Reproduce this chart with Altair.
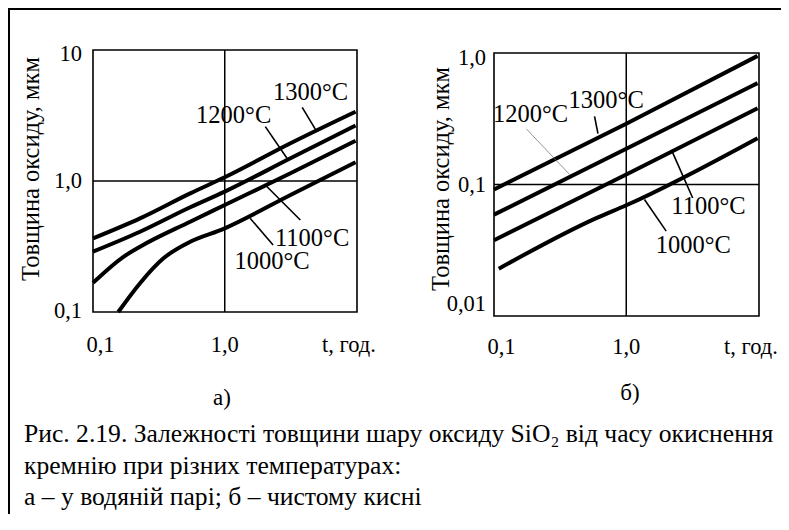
import altair as alt
import pandas as pd

FONT = "Liberation Serif"
W, H = 773, 506

# ---------------- panel а) : water vapour ----------------
a_1300_t = [0.087, 0.208, 0.527, 1.0, 3.38, 11.3]
a_1300_d = [0.365, 0.519, 0.805, 1.067, 1.94, 3.38]
a_1200_t = [0.087, 0.208, 0.527, 1.0, 3.38, 11.3]
a_1200_d = [0.289, 0.41, 0.63, 0.83, 1.49, 2.65]
a_1100_t = [0.087, 0.153, 0.208, 0.527, 1.0, 3.38, 11.3]
a_1100_d = [0.167, 0.264, 0.315, 0.489, 0.656, 1.145, 2.03]
a_1000_t = [0.139, 0.208, 0.321, 0.496, 1.0, 3.38, 11.3]
a_1000_d = [0.1, 0.166, 0.257, 0.334, 0.435, 0.782, 1.39]

a_label_text = ["1300°C", "1200°C", "1100°C", "1000°C"]
a_label_t = [4.9, 1.18, 5.05, 2.4]
a_label_d = [4.67, 3.13, 0.361, 0.239]
a_lead_t = [4.2, 2.12, 2.12, 1.6]
a_lead_d = [3.65, 2.6, 0.932, 0.519]
a_lead_t2 = [5.37, 3.17, 4.06, 2.45]
a_lead_d2 = [2.48, 1.49, 0.504, 0.325]

# ---------------- panel б) : pure oxygen ----------------
b_1300_t = [0.087, 1.0, 11.3]
b_1300_d = [0.0917, 0.29, 0.95]
b_1200_t = [0.087, 1.0, 11.3]
b_1200_d = [0.059, 0.187, 0.59]
b_1100_t = [0.087, 1.0, 11.3]
b_1100_d = [0.0377, 0.119, 0.38]
b_1000_t = [0.095, 0.575, 1.0, 11.3]
b_1000_d = [0.0229, 0.0555, 0.0695, 0.225]

b_label_text = ["1300°C", "1200°C", "1100°C", "1000°C"]
b_label_t = [0.69, 0.171, 4.56, 3.45]
b_label_d = [0.435, 0.335, 0.0675, 0.034]
b_lead_t = [0.557, 0.158, 2.36, 1.4]
b_lead_d = [0.33, 0.265, 0.174, 0.0769]
b_lead_t2 = [0.593, 0.352, 3.41, 2.09]
b_lead_d2 = [0.244, 0.119, 0.079, 0.0442]

# ---------------- tick labels and texts ----------------
x_ticks = [0.1, 1, 10]
x_tick_labels = ["0,1", "1,0", "t, год."]
a_y_ticks = [0.1, 1, 10]
a_y_tick_labels = ["0,1", "1,0", "10"]
b_y_ticks = [0.01, 0.1, 1]
b_y_tick_labels = ["0,01", "0,1", "1,0"]
y_title = "Товщина оксиду, мкм"
a_subtitle = "а)"
b_subtitle = "б)"

caption_lines = [
    "Рис. 2.19. Залежності товщини шару оксиду SiO₂ від часу окиснення",
    "кремнію при різних температурах:",
    "а – у водяній парі; б – чистому кисні",
]

T_DOMAIN = [0.087, 11.6]


def curves_df(pairs):
    rows = []
    for name, ts, ds in pairs:
        for t, d in zip(ts, ds):
            rows.append({"T": name, "t": t, "d": d})
    return pd.DataFrame(rows)


def panel(curves, lab_text, lab_t, lab_d, ld_t, ld_d, ld_t2, ld_d2,
          y_dom, y_ticks, y_tick_labels, x_range, y_range, grid_d,
          xlab_dy, ylab_dx, ylab_shift, subtitle, subtitle_xy, ytitle_xy, thin_label=None):
    xs = alt.Scale(type="log", domain=T_DOMAIN, range=x_range, nice=False)
    ys = alt.Scale(type="log", domain=y_dom, range=y_range, nice=False)
    import math
    px_per_decade = (y_range[0] - y_range[1]) / math.log10(y_dom[1] / y_dom[0])

    def X(f="t:Q"):
        return alt.X(f, scale=xs, axis=None)

    def Y(f="d:Q"):
        return alt.Y(f, scale=ys, axis=None)

    frame_df = pd.DataFrame([{"t": T_DOMAIN[0], "t2": T_DOMAIN[1], "d": y_dom[0], "d2": y_dom[1]}])
    frame = alt.Chart(frame_df).mark_rect(fillOpacity=0, stroke="black", strokeWidth=1.6).encode(
        x=X(), x2="t2:Q", y=Y(), y2="d2:Q")

    vgrid = alt.Chart(pd.DataFrame([{"t": 1.0, "d": y_dom[0], "d2": y_dom[1]}])).mark_rule(
        color="black", strokeWidth=1.5).encode(x=X(), y=Y(), y2="d2:Q")
    hgrid = alt.Chart(pd.DataFrame([{"t": T_DOMAIN[0], "t2": T_DOMAIN[1], "d": grid_d}])).mark_rule(
        color="black", strokeWidth=1.5).encode(x=X(), x2="t2:Q", y=Y())

    lines = alt.Chart(curves_df(curves)).mark_line(
        color="black", strokeWidth=4, interpolate="monotone", strokeCap="butt").encode(
        x=X(), y=Y(), detail="T:N")

    lead_df = pd.DataFrame({"label": lab_text, "t": ld_t, "d": ld_d, "t2": ld_t2, "d2": ld_d2})
    if thin_label is not None:
        sw = alt.condition(alt.datum.label == thin_label, alt.value(0.7), alt.value(1.6))
        col = alt.condition(alt.datum.label == thin_label, alt.value("#666666"), alt.value("black"))
    else:
        sw = alt.value(1.6)
        col = alt.value("black")
    leaders = alt.Chart(lead_df).mark_rule().encode(
        x=X(), y=Y(), x2="t2:Q", y2="d2:Q", strokeWidth=sw, color=col)

    lab_df = pd.DataFrame({"label": lab_text, "t": lab_t, "d": lab_d})
    labels = alt.Chart(lab_df).mark_text(font=FONT, fontSize=24.5, color="black",
                                         align="center", baseline="middle").encode(
        x=X(), y=Y(), text="label:N")

    # tick labels (drawn through the panel's own scales)
    xt_df = pd.DataFrame({"t": x_ticks, "lab": x_tick_labels, "d": [y_dom[0]] * len(x_ticks)})
    xticks = alt.Chart(xt_df).mark_text(font=FONT, fontSize=22.5, color="black", align="center",
                                        baseline="alphabetic", dy=xlab_dy).encode(
        x=X(), y=Y(), text="lab:N")
    yt_df = pd.DataFrame({"d": y_ticks, "lab": y_tick_labels, "t": [T_DOMAIN[0]] * len(y_ticks)})
    # the end labels sit a few pixels inside the frame, as in the original figure
    shift_expr = (f"datum.d >= {y_dom[1]} ? {ylab_shift[1]} : "
                  f"(datum.d <= {y_dom[0]} ? {ylab_shift[0]} : 0)")
    yticks = alt.Chart(yt_df).transform_calculate(
        off=shift_expr
    ).transform_calculate(
        dl=f"datum.d * pow(10, -datum.off / {px_per_decade})"
    ).mark_text(
        font=FONT, fontSize=22.5, color="black", align="right",
        baseline="middle", dx=ylab_dx).encode(
        x=X(), y=Y("dl:Q"), text="lab:N")

    ytitle = alt.Chart(pd.DataFrame({"s": [y_title]})).mark_text(
        font=FONT, fontSize=24.5, color="black", angle=270, align="center", baseline="middle").encode(
        x=alt.value(ytitle_xy[0]), y=alt.value(ytitle_xy[1]), text="s:N")
    sub = alt.Chart(pd.DataFrame({"s": [subtitle]})).mark_text(
        font=FONT, fontSize=23, color="black", align="center", baseline="middle").encode(
        x=alt.value(subtitle_xy[0]), y=alt.value(subtitle_xy[1]), text="s:N")

    return alt.layer(frame, vgrid, hgrid, lines, leaders, labels, xticks, yticks, ytitle, sub)


panel_a = panel(
    [("1300°C", a_1300_t, a_1300_d), ("1200°C", a_1200_t, a_1200_d),
     ("1100°C", a_1100_t, a_1100_d), ("1000°C", a_1000_t, a_1000_d)],
    a_label_text, a_label_t, a_label_d, a_lead_t, a_lead_d, a_lead_t2, a_lead_d2,
    y_dom=[0.1, 10], y_ticks=a_y_ticks, y_tick_labels=a_y_tick_labels,
    x_range=[85, 349], y_range=[304, 42], grid_d=1.0,
    xlab_dy=40, ylab_dx=-11, ylab_shift=(-1.5, 4), subtitle=a_subtitle, subtitle_xy=(214, 390),
    ytitle_xy=(24, 161))

panel_b = panel(
    [("1300°C", b_1300_t, b_1300_d), ("1200°C", b_1200_t, b_1200_d),
     ("1100°C", b_1100_t, b_1100_d), ("1000°C", b_1000_t, b_1000_d)],
    b_label_text, b_label_t, b_label_d, b_lead_t, b_lead_d, b_lead_t2, b_lead_d2,
    y_dom=[0.01, 1], y_ticks=b_y_ticks, y_tick_labels=b_y_tick_labels,
    x_range=[486, 751], y_range=[308, 45], grid_d=0.1,
    xlab_dy=37.5, ylab_dx=-8, ylab_shift=(-12, 4.5), subtitle=b_subtitle, subtitle_xy=(622, 385),
    ytitle_xy=(433.5, 171), thin_label="1200°C")

cap_df = pd.DataFrame({"line": caption_lines, "row": list(range(len(caption_lines)))})
caption = alt.Chart(cap_df).mark_text(font=FONT, fontSize=25.6, color="black",
                                      align="left", baseline="alphabetic").encode(
    x=alt.value(16),
    y=alt.Y("row:Q", scale=alt.Scale(domain=[0, 2], range=[434, 497]), axis=None),
    text="line:N")

border_v = alt.Chart(pd.DataFrame({"k": [0]})).mark_rule(color="black", strokeWidth=2).encode(
    x=alt.value(1), y=alt.value(0), y2=alt.value(H))
border_h = alt.Chart(pd.DataFrame({"k": [0]})).mark_rule(color="black", strokeWidth=2).encode(
    x=alt.value(0), x2=alt.value(W), y=alt.value(1))

chart = alt.layer(panel_a, panel_b, caption, border_v, border_h).resolve_scale(
    x="independent", y="independent"
).properties(
    width=W, height=H, padding=0,
    autosize=alt.AutoSizeParams(type="none"),
    background="white",
).configure_view(stroke=None, strokeWidth=0)

chart.save("out.html", embed_options={"renderer": "svg", "actions": False})
